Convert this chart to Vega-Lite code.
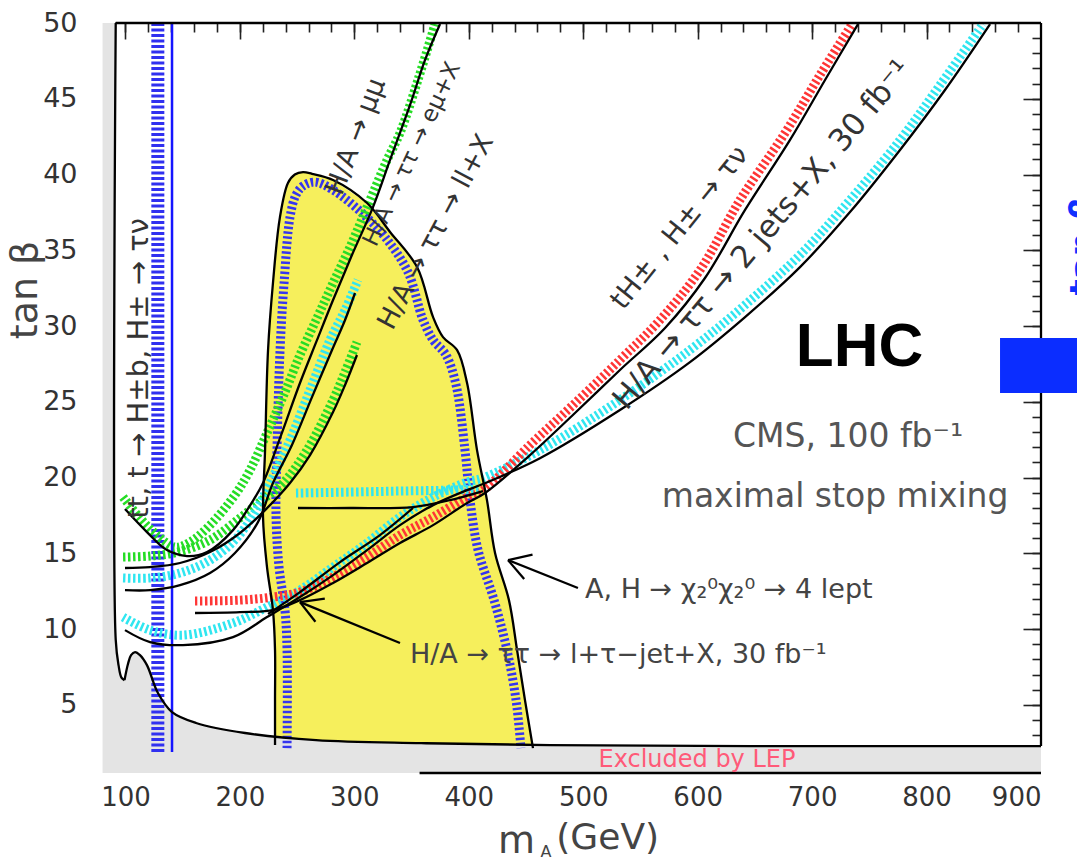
{
"$schema":"https://vega.github.io/schema/vega-lite/v6.json",
"width":927,"height":750,
"autosize":{"type":"none"},
"padding":{"left":114,"top":23,"right":36,"bottom":91},
"background":"white",
"config":{"view":{"stroke":null},"font":"DejaVu Sans"},
"datasets":{
"lep":[{"x":80,"y":50},{"x":91.4,"y":50},{"x":91.5,"y":9.3},{"x":94,"y":7.6},{"x":96.5,"y":6.8},{"x":99.2,"y":6.63},{"x":102.2,"y":7.69},{"x":104.9,"y":8.28},{"x":108.4,"y":8.48},{"x":112.7,"y":8.28},{"x":118.8,"y":7.62},{"x":128.4,"y":5.78},{"x":140.7,"y":4.52},{"x":161.7,"y":3.8},{"x":204.5,"y":3.14},{"x":266.5,"y":2.67},{"x":358.3,"y":2.47},{"x":471,"y":2.34},{"x":645.8,"y":2.28},{"x":900,"y":2.28}],
"yellow":[{"x":220.2,"top":17.39,"bot":17.39},{"x":222.0,"top":21.81,"bot":15.69},{"x":223.7,"top":26.13,"bot":14.09},{"x":224.6,"top":28.42,"bot":13.6},{"x":226.5,"top":30.37,"bot":12.6},{"x":228.9,"top":32.84,"bot":11.25},{"x":230.6,"top":34.05,"bot":8.7},{"x":230.7,"top":34.12,"bot":2.85},{"x":235.0,"top":37.19,"bot":2.82},{"x":242.0,"top":39.44,"bot":2.76},{"x":248,"top":40.0,"bot":2.72},{"x":255.2,"top":40.16,"bot":2.7},{"x":263,"top":40.05,"bot":2.68},{"x":281.4,"top":39.64,"bot":2.63},{"x":311.1,"top":38.12,"bot":2.56},{"x":331.2,"top":36.21,"bot":2.52},{"x":354.8,"top":33.89,"bot":2.48},{"x":368.8,"top":30.59,"bot":2.46},{"x":377.5,"top":29.27,"bot":2.45},{"x":389.7,"top":28.42,"bot":2.43},{"x":398.5,"top":26.24,"bot":2.42},{"x":407.2,"top":21.81,"bot":2.41},{"x":415.9,"top":18.51,"bot":2.4},{"x":423,"top":15.0,"bot":2.39},{"x":435.1,"top":11.91,"bot":2.38},{"x":442.2,"top":8.61,"bot":2.37},{"x":449.1,"top":5.31,"bot":2.36},{"x":456.1,"top":2.36,"bot":2.35}],
"vl":[{"k":"h","x":128.3,"y":1.88,"y2":50},{"k":"s","x":140.7,"y":1.88,"y2":50}],
"box":[{"x":864.2,"x2":931.5,"y":25.58,"y2":29.21}],
"frame":[{"x":91.5,"y":50},{"x":900,"y":50}],
"hatch":[
{"id":"blueB","i":0,"x":241.2,"y":2.14},{"id":"blueB","i":1,"x":241.2,"y":8.61},{"id":"blueB","i":2,"x":239.4,"y":11.25},{"id":"blueB","i":3,"x":234.2,"y":14.09},{"id":"blueB","i":4,"x":231.6,"y":17.39},{"id":"blueB","i":5,"x":232.4,"y":21.81},{"id":"blueB","i":6,"x":235.1,"y":28.42},{"id":"blueB","i":7,"x":238.6,"y":32.84},{"id":"blueB","i":8,"x":243.8,"y":37.19},{"id":"blueB","i":9,"x":249.0,"y":38.65},{"id":"blueB","i":10,"x":255.2,"y":39.24},{"id":"blueB","i":11,"x":265.6,"y":39.5},{"id":"blueB","i":12,"x":281.4,"y":38.98},{"id":"blueB","i":13,"x":306.7,"y":37.46},{"id":"blueB","i":14,"x":326.8,"y":35.87},{"id":"blueB","i":15,"x":346.9,"y":33.56},{"id":"blueB","i":16,"x":360.0,"y":30.4},{"id":"blueB","i":17,"x":368.8,"y":29.08},{"id":"blueB","i":18,"x":380.1,"y":28.09},{"id":"blueB","i":19,"x":388.9,"y":26.11},{"id":"blueB","i":20,"x":396.7,"y":21.81},{"id":"blueB","i":21,"x":401.1,"y":18.51},{"id":"blueB","i":22,"x":408.1,"y":15.21},{"id":"blueB","i":23,"x":422.1,"y":11.91},{"id":"blueB","i":24,"x":433.4,"y":8.61},{"id":"blueB","i":25,"x":441.3,"y":5.31},{"id":"blueB","i":26,"x":445.6,"y":2.14},
{"id":"mumuG","i":0,"x":97.9,"y":18.71},{"id":"mumuG","i":1,"x":112.7,"y":17.33},{"id":"mumuG","i":2,"x":127.6,"y":16.2},{"id":"mumuG","i":3,"x":143.3,"y":15.41},{"id":"mumuG","i":4,"x":156.4,"y":15.74},{"id":"mumuG","i":5,"x":173.9,"y":16.86},{"id":"mumuG","i":6,"x":195.7,"y":18.85},{"id":"mumuG","i":7,"x":208.8,"y":20.49},{"id":"mumuG","i":8,"x":223.7,"y":22.94},{"id":"mumuG","i":9,"x":239.4,"y":25.64},{"id":"mumuG","i":10,"x":252.5,"y":28.09},{"id":"mumuG","i":11,"x":267.4,"y":30.53},{"id":"mumuG","i":12,"x":281.4,"y":32.84},{"id":"mumuG","i":13,"x":296.2,"y":35.21},{"id":"mumuG","i":14,"x":311.1,"y":37.85},{"id":"mumuG","i":15,"x":328.6,"y":40.96},{"id":"mumuG","i":16,"x":339.9,"y":42.74},{"id":"mumuG","i":17,"x":355.6,"y":46.24},{"id":"mumuG","i":18,"x":370.5,"y":49.93},
{"id":"llG","i":0,"x":97.9,"y":14.75},{"id":"llG","i":1,"x":121.5,"y":14.82},{"id":"llG","i":2,"x":145.9,"y":15.08},{"id":"llG","i":3,"x":173.9,"y":15.88},{"id":"llG","i":4,"x":200.1,"y":17.33},{"id":"llG","i":5,"x":219.3,"y":18.51},{"id":"llG","i":6,"x":237.7,"y":19.64},{"id":"llG","i":7,"x":258.6,"y":21.81},{"id":"llG","i":8,"x":281.4,"y":25.12},{"id":"llG","i":9,"x":291.9,"y":26.96},{"id":"llG","i":10,"x":302.3,"y":28.94},
{"id":"emuC","i":0,"x":97.9,"y":13.37},{"id":"emuC","i":1,"x":121.5,"y":13.37},{"id":"emuC","i":2,"x":147.7,"y":13.7},{"id":"emuC","i":3,"x":173.9,"y":14.55},{"id":"emuC","i":4,"x":195.7,"y":15.88},{"id":"emuC","i":5,"x":213.2,"y":17.72},{"id":"emuC","i":6,"x":226.3,"y":19.64},{"id":"emuC","i":7,"x":243.8,"y":22.48},{"id":"emuC","i":8,"x":261.3,"y":25.78},{"id":"emuC","i":9,"x":278.7,"y":29.08},{"id":"emuC","i":10,"x":291.9,"y":31.06},{"id":"emuC","i":11,"x":303.2,"y":33.04},
{"id":"jetsC","i":0,"x":97.9,"y":10.79},{"id":"jetsC","i":1,"x":121.5,"y":9.93},{"id":"jetsC","i":2,"x":150.3,"y":9.6},{"id":"jetsC","i":3,"x":194.0,"y":10.4},{"id":"jetsC","i":4,"x":223.7,"y":11.45},{"id":"jetsC","i":5,"x":252.5,"y":12.57},{"id":"jetsC","i":6,"x":281.4,"y":14.09},{"id":"jetsC","i":7,"x":311.1,"y":15.68},{"id":"jetsC","i":8,"x":339.9,"y":17.39},{"id":"jetsC","i":9,"x":368.8,"y":18.71},{"id":"jetsC","i":10,"x":398.5,"y":19.7},{"id":"jetsC","i":11,"x":412.4,"y":19.97},{"id":"jetsC","i":12,"x":462.2,"y":21.81},{"id":"jetsC","i":13,"x":532.1,"y":25.12},{"id":"jetsC","i":14,"x":593.3,"y":28.42},{"id":"jetsC","i":15,"x":641.4,"y":31.39},{"id":"jetsC","i":16,"x":689.4,"y":34.69},{"id":"jetsC","i":17,"x":733.1,"y":38.32},{"id":"jetsC","i":18,"x":776.8,"y":42.28},{"id":"jetsC","i":19,"x":811.8,"y":45.91},{"id":"jetsC","i":20,"x":849.4,"y":49.93},
{"id":"red","i":0,"x":160.8,"y":11.85},{"id":"red","i":1,"x":200.1,"y":11.91},{"id":"red","i":2,"x":228.9,"y":12.11},{"id":"red","i":3,"x":252.5,"y":12.44},{"id":"red","i":4,"x":281.4,"y":13.43},{"id":"red","i":5,"x":311.1,"y":14.75},{"id":"red","i":6,"x":339.9,"y":16.2},{"id":"red","i":7,"x":368.8,"y":17.39},{"id":"red","i":8,"x":398.5,"y":18.71},{"id":"red","i":9,"x":412.4,"y":19.17},{"id":"red","i":10,"x":453.5,"y":22.15},{"id":"red","i":11,"x":491.1,"y":24.79},{"id":"red","i":12,"x":532.1,"y":27.76},{"id":"red","i":13,"x":567.1,"y":30.4},{"id":"red","i":14,"x":602.1,"y":33.7},{"id":"red","i":15,"x":637.0,"y":38.32},{"id":"red","i":16,"x":676.3,"y":42.74},{"id":"red","i":17,"x":706.9,"y":46.57},{"id":"red","i":18,"x":734.9,"y":49.93},
{"id":"ltauC","i":0,"x":249.0,"y":18.98},{"id":"ltauC","i":1,"x":296.2,"y":19.04},{"id":"ltauC","i":2,"x":339.9,"y":19.11},{"id":"ltauC","i":3,"x":383.6,"y":19.17},{"id":"ltauC","i":4,"x":409.8,"y":19.24}
],
"black":[
{"id":"frameTop","i":0,"x":91.5,"y":50},{"id":"frameTop","i":1,"x":900,"y":50},
{"id":"frameRight","i":0,"x":900,"y":50},{"id":"frameRight","i":1,"x":900,"y":2.28},
{"id":"axisBottom","i":0,"x":357,"y":0.5},{"id":"axisBottom","i":1,"x":900,"y":0.5},
{"id":"frameLeft","i":0,"x":91.5,"y":50},{"id":"frameLeft","i":1,"x":91.5,"y":9.3},{"id":"frameLeft","i":2,"x":94,"y":7.6},{"id":"frameLeft","i":3,"x":96.5,"y":6.8},{"id":"frameLeft","i":4,"x":99.2,"y":6.63},
{"id":"lep","i":0,"x":99.2,"y":6.63},{"id":"lep","i":1,"x":102.2,"y":7.69},{"id":"lep","i":2,"x":104.9,"y":8.28},{"id":"lep","i":3,"x":108.4,"y":8.48},{"id":"lep","i":4,"x":112.7,"y":8.28},{"id":"lep","i":5,"x":118.8,"y":7.62},{"id":"lep","i":6,"x":128.4,"y":5.78},{"id":"lep","i":7,"x":140.7,"y":4.52},{"id":"lep","i":8,"x":161.7,"y":3.8},{"id":"lep","i":9,"x":204.5,"y":3.14},{"id":"lep","i":10,"x":266.5,"y":2.67},{"id":"lep","i":11,"x":358.3,"y":2.47},{"id":"lep","i":12,"x":471,"y":2.34},{"id":"lep","i":13,"x":645.8,"y":2.28},{"id":"lep","i":14,"x":900,"y":2.28},
{"id":"yellowB","i":0,"x":230.7,"y":2.34},{"id":"yellowB","i":1,"x":230.7,"y":5.31},{"id":"yellowB","i":2,"x":230.7,"y":8.61},{"id":"yellowB","i":3,"x":228.9,"y":11.25},{"id":"yellowB","i":4,"x":223.7,"y":14.09},{"id":"yellowB","i":5,"x":220.2,"y":17.39},{"id":"yellowB","i":6,"x":222.0,"y":21.81},{"id":"yellowB","i":7,"x":224.6,"y":28.42},{"id":"yellowB","i":8,"x":228.9,"y":32.84},{"id":"yellowB","i":9,"x":235.0,"y":37.19},{"id":"yellowB","i":10,"x":242.0,"y":39.44},{"id":"yellowB","i":11,"x":248,"y":40.0},{"id":"yellowB","i":12,"x":255.2,"y":40.16},{"id":"yellowB","i":13,"x":263,"y":40.05},{"id":"yellowB","i":14,"x":281.4,"y":39.64},{"id":"yellowB","i":15,"x":311.1,"y":38.12},{"id":"yellowB","i":16,"x":331.2,"y":36.21},{"id":"yellowB","i":17,"x":354.8,"y":33.89},{"id":"yellowB","i":18,"x":368.8,"y":30.59},{"id":"yellowB","i":19,"x":377.5,"y":29.27},{"id":"yellowB","i":20,"x":389.7,"y":28.42},{"id":"yellowB","i":21,"x":398.5,"y":26.24},{"id":"yellowB","i":22,"x":407.2,"y":21.81},{"id":"yellowB","i":23,"x":415.9,"y":18.51},{"id":"yellowB","i":24,"x":423,"y":15.0},{"id":"yellowB","i":25,"x":435.1,"y":11.91},{"id":"yellowB","i":26,"x":442.2,"y":8.61},{"id":"yellowB","i":27,"x":449.1,"y":5.31},{"id":"yellowB","i":28,"x":456.1,"y":2.14},
{"id":"mumuK","i":0,"x":99.6,"y":17.92},{"id":"mumuK","i":1,"x":118.8,"y":16.4},{"id":"mumuK","i":2,"x":136.3,"y":15.21},{"id":"mumuK","i":3,"x":153.8,"y":14.82},{"id":"mumuK","i":4,"x":171.3,"y":15.08},{"id":"mumuK","i":5,"x":194.0,"y":16.53},{"id":"mumuK","i":6,"x":210,"y":18.3},{"id":"mumuK","i":7,"x":220.2,"y":19.64},{"id":"mumuK","i":8,"x":236,"y":22.8},{"id":"mumuK","i":9,"x":252.5,"y":26.24},{"id":"mumuK","i":10,"x":267,"y":29.0},{"id":"mumuK","i":11,"x":281.4,"y":31.72},{"id":"mumuK","i":12,"x":298,"y":34.7},{"id":"mumuK","i":13,"x":316.3,"y":37.85},{"id":"mumuK","i":14,"x":331.2,"y":40.96},{"id":"mumuK","i":15,"x":348.7,"y":44.59},{"id":"mumuK","i":16,"x":361.8,"y":47.56},{"id":"mumuK","i":17,"x":374.9,"y":49.93},
{"id":"llK","i":0,"x":99.6,"y":14.03},{"id":"llK","i":1,"x":121.5,"y":14.09},{"id":"llK","i":2,"x":147.7,"y":14.36},{"id":"llK","i":3,"x":173.9,"y":15.08},{"id":"llK","i":4,"x":200.1,"y":16.34},{"id":"llK","i":5,"x":222.0,"y":17.85},{"id":"llK","i":6,"x":243.8,"y":19.64},{"id":"llK","i":7,"x":261.3,"y":21.48},{"id":"llK","i":8,"x":281.4,"y":24.32},{"id":"llK","i":9,"x":291.9,"y":26.11},{"id":"llK","i":10,"x":302.3,"y":28.09},
{"id":"emuK","i":0,"x":99.6,"y":12.57},{"id":"emuK","i":1,"x":121.5,"y":12.57},{"id":"emuK","i":2,"x":147.7,"y":12.9},{"id":"emuK","i":3,"x":173.9,"y":13.7},{"id":"emuK","i":4,"x":195.7,"y":15.02},{"id":"emuK","i":5,"x":215.8,"y":17.06},{"id":"emuK","i":6,"x":228.9,"y":19.64},{"id":"emuK","i":7,"x":245.5,"y":22.15},{"id":"emuK","i":8,"x":263.0,"y":25.31},{"id":"emuK","i":9,"x":280.5,"y":28.42},{"id":"emuK","i":10,"x":291.9,"y":30.4},{"id":"emuK","i":11,"x":300.6,"y":32.18},
{"id":"jetsK","i":0,"x":99.6,"y":9.93},{"id":"jetsK","i":1,"x":121.5,"y":9.14},{"id":"jetsK","i":2,"x":150.3,"y":8.94},{"id":"jetsK","i":3,"x":194.0,"y":9.47},{"id":"jetsK","i":4,"x":223.7,"y":10.79},{"id":"jetsK","i":5,"x":252.5,"y":12.11},{"id":"jetsK","i":6,"x":281.4,"y":13.56},{"id":"jetsK","i":7,"x":311.1,"y":15.21},{"id":"jetsK","i":8,"x":339.9,"y":16.86},{"id":"jetsK","i":9,"x":368.8,"y":18.18},{"id":"jetsK","i":10,"x":398.5,"y":19.17},{"id":"jetsK","i":11,"x":412.4,"y":19.57},{"id":"jetsK","i":12,"x":462.2,"y":21.28},{"id":"jetsK","i":13,"x":532.1,"y":24.46},{"id":"jetsK","i":14,"x":593.3,"y":27.62},{"id":"jetsK","i":15,"x":641.4,"y":30.59},{"id":"jetsK","i":16,"x":689.4,"y":33.89},{"id":"jetsK","i":17,"x":733.1,"y":37.52},{"id":"jetsK","i":18,"x":776.8,"y":41.62},{"id":"jetsK","i":19,"x":816.1,"y":45.58},{"id":"jetsK","i":20,"x":855.5,"y":49.93},
{"id":"redK","i":0,"x":160.8,"y":11.06},{"id":"redK","i":1,"x":200.1,"y":11.12},{"id":"redK","i":2,"x":228.9,"y":11.25},{"id":"redK","i":3,"x":252.5,"y":11.91},{"id":"redK","i":4,"x":281.4,"y":13.04},{"id":"redK","i":5,"x":311.1,"y":14.36},{"id":"redK","i":6,"x":339.9,"y":15.68},{"id":"redK","i":7,"x":368.8,"y":16.86},{"id":"redK","i":8,"x":398.5,"y":18.32},{"id":"redK","i":9,"x":414.2,"y":18.98},{"id":"redK","i":10,"x":453.5,"y":21.48},{"id":"redK","i":11,"x":492.8,"y":24.26},{"id":"redK","i":12,"x":532.1,"y":27.1},{"id":"redK","i":13,"x":571.5,"y":29.87},{"id":"redK","i":14,"x":606.4,"y":33.17},{"id":"redK","i":15,"x":641.4,"y":37.66},{"id":"redK","i":16,"x":680.7,"y":42.28},{"id":"redK","i":17,"x":711.3,"y":46.24},{"id":"redK","i":18,"x":740.1,"y":49.93},
{"id":"ltauK","i":0,"x":250.8,"y":17.99},{"id":"ltauK","i":1,"x":296.2,"y":17.99},{"id":"ltauK","i":2,"x":351.3,"y":18.05},{"id":"ltauK","i":3,"x":383.6,"y":18.51},{"id":"ltauK","i":4,"x":412.4,"y":19.11},
{"id":"diagK","i":0,"x":224.6,"y":10.99},{"id":"diagK","i":1,"x":252.5,"y":12.44},{"id":"diagK","i":2,"x":287.5,"y":14.42},{"id":"diagK","i":3,"x":322.4,"y":16.2},{"id":"diagK","i":4,"x":351.3,"y":17.99},
{"id":"arr1","i":0,"x":495.4,"y":12.71},{"id":"arr1","i":1,"x":434.3,"y":14.55},
{"id":"arr1a","i":0,"x":434.3,"y":14.55},{"id":"arr1a","i":1,"x":455.7,"y":14.91},
{"id":"arr1b","i":0,"x":434.3,"y":14.55},{"id":"arr1b","i":1,"x":448.4,"y":13.3},
{"id":"arr2","i":0,"x":339.9,"y":9.08},{"id":"arr2","i":1,"x":252.5,"y":11.78},
{"id":"arr2a","i":0,"x":252.5,"y":11.78},{"id":"arr2a","i":1,"x":274.2,"y":12.01},
{"id":"arr2b","i":0,"x":252.5,"y":11.78},{"id":"arr2b","i":1,"x":266.0,"y":10.48}
],
"lab":[
{"k":"mumu","t":"H/A  →  μμ","x":301.5,"y":42.5},
{"k":"emu","t":"H/A → ττ → eμ+X","x":350.4,"y":41.35},
{"k":"ll","t":"H/A → ττ → ll+X","x":371.4,"y":36.2},
{"k":"taunu","t":"tH± , H± → τν","x":584.6,"y":36.47},
{"k":"jets","t":"H/A → ττ → 2 jets+X, 30 fb⁻¹","x":657,"y":36.0},
{"k":"tt","t":"tt, t → H±b, H± → τν","x":111.5,"y":27.2},
{"k":"lhc","t":"LHC","x":741.4,"y":28.61},
{"k":"cms","t":"CMS, 100 fb⁻¹","x":731.4,"y":22.67},
{"k":"mix","t":"maximal stop mixing","x":720.1,"y":18.71},
{"k":"4l","t":"A, H → χ₂⁰χ₂⁰ → 4 lept","x":501.6,"y":12.57},
{"k":"ltau","t":"H/A → ττ → l+τ−jet+X, 30 fb⁻¹","x":348.6,"y":8.28},
{"k":"lep","t":"Excluded by LEP","x":599.4,"y":1.34},
{"k":"ytitle","t":"tan β","x":13.5,"y":32.38},
{"k":"m","t":"m","x":441.7,"y":-4.06},
{"k":"A","t":"A","x":467.5,"y":-4.72},
{"k":"gev","t":"(GeV)","x":476.5,"y":-3.8},
{"k":"blue","t":"tan β","x":937.6,"y":35.3}
]
},
"layer":[
{
"encoding":{
"x":{"field":"x","type":"quantitative","scale":{"domain":[90,900],"nice":false,"zero":false},"axis":{"values":[100,200,300,400,500,600,700,800,900],"title":null,"ticks":false,"domain":false,"grid":false,"labelFontSize":26,"labelColor":"#333","labelPadding":11,"labelFont":"DejaVu Sans","labelOverlap":false}},
"y":{"field":"y","type":"quantitative","scale":{"domain":[0.5,50],"nice":false,"zero":false},"axis":{"values":[5,10,15,20,25,30,35,40,45,50],"title":null,"ticks":false,"domain":false,"grid":false,"labelFontSize":27,"labelColor":"#333","labelPadding":37,"labelFont":"DejaVu Sans","labelOverlap":false}}
},
"layer":[
{"data":{"name":"lep"},"mark":{"type":"area","color":"#e4e4e4"},"encoding":{"y2":{"datum":0.5}}},
{"data":{"name":"yellow"},"mark":{"type":"area","color":"#f6ef5c"},"encoding":{"y":{"field":"top","type":"quantitative"},"y2":{"field":"bot"}}},
{"data":{"name":"vl"},"transform":[{"filter":"datum.k=='h'"}],"mark":{"type":"rule","color":"#3030f0","strokeWidth":13,"strokeDash":[3,2.5]},"encoding":{"y2":{"field":"y2"}}},
{"data":{"name":"hatch"},"mark":{"type":"line","strokeWidth":9,"strokeDash":[2.5,2.5],"interpolate":"catmull-rom"},"encoding":{"detail":{"field":"id"},"order":{"field":"i","type":"quantitative"},"color":{"field":"id","type":"nominal","legend":null,"scale":{"domain":["blueB","mumuG","llG","emuC","jetsC","red","ltauC"],"range":["#3535f0","#25dd25","#25dd25","#30e6f0","#30e6f0","#ff3535","#30e6f0"]}}}},
{"data":{"name":"vl"},"transform":[{"filter":"datum.k=='s'"}],"mark":{"type":"rule","color":"#1515ff","strokeWidth":2.5},"encoding":{"y2":{"field":"y2"}}},
{"data":{"name":"black"},"mark":{"type":"line","color":"#000","strokeWidth":2.3,"interpolate":"catmull-rom"},"encoding":{"detail":{"field":"id"},"order":{"field":"i","type":"quantitative"}}},
{"data":{"name":"box"},"mark":{"type":"rect","color":"#0b2dff"},"encoding":{"x2":{"field":"x2"},"y2":{"field":"y2"}}},
{"data":{"name":"lab"},"transform":[{"filter":"datum.k=='mumu'"}],"mark":{"type":"text","angle":-69,"fontSize":27,"color":"#333"},"encoding":{"text":{"field":"t"}}},
{"data":{"name":"lab"},"transform":[{"filter":"datum.k=='emu'"}],"mark":{"type":"text","angle":-65,"fontSize":23,"color":"#333"},"encoding":{"text":{"field":"t"}}},
{"data":{"name":"lab"},"transform":[{"filter":"datum.k=='ll'"}],"mark":{"type":"text","angle":-62,"fontSize":27,"color":"#333"},"encoding":{"text":{"field":"t"}}},
{"data":{"name":"lab"},"transform":[{"filter":"datum.k=='taunu'"}],"mark":{"type":"text","angle":-51,"fontSize":28,"color":"#333"},"encoding":{"text":{"field":"t"}}},
{"data":{"name":"lab"},"transform":[{"filter":"datum.k=='jets'"}],"mark":{"type":"text","angle":-50,"fontSize":31,"color":"#333"},"encoding":{"text":{"field":"t"}}},
{"data":{"name":"lab"},"transform":[{"filter":"datum.k=='tt'"}],"mark":{"type":"text","angle":-90,"fontSize":29,"color":"#333"},"encoding":{"text":{"field":"t"}}},
{"data":{"name":"lab"},"transform":[{"filter":"datum.k=='lhc'"}],"mark":{"type":"text","fontSize":62,"fontWeight":"bold","font":"Liberation Sans","color":"#000"},"encoding":{"text":{"field":"t"}}},
{"data":{"name":"lab"},"transform":[{"filter":"datum.k=='cms' || datum.k=='mix'"}],"mark":{"type":"text","fontSize":33,"color":"#555"},"encoding":{"text":{"field":"t"}}},
{"data":{"name":"lab"},"transform":[{"filter":"datum.k=='4l' || datum.k=='ltau'"}],"mark":{"type":"text","fontSize":27,"align":"left","color":"#444"},"encoding":{"text":{"field":"t"}}},
{"data":{"name":"lab"},"transform":[{"filter":"datum.k=='lep'"}],"mark":{"type":"text","fontSize":24,"color":"#ff5a78"},"encoding":{"text":{"field":"t"}}},
{"data":{"name":"lab"},"transform":[{"filter":"datum.k=='ytitle'"}],"mark":{"type":"text","angle":-90,"fontSize":38,"color":"#444"},"encoding":{"text":{"field":"t"}}},
{"data":{"name":"lab"},"transform":[{"filter":"datum.k=='m'"}],"mark":{"type":"text","fontSize":38,"color":"#444"},"encoding":{"text":{"field":"t"}}},
{"data":{"name":"lab"},"transform":[{"filter":"datum.k=='A'"}],"mark":{"type":"text","fontSize":16,"color":"#444"},"encoding":{"text":{"field":"t"}}},
{"data":{"name":"lab"},"transform":[{"filter":"datum.k=='gev'"}],"mark":{"type":"text","fontSize":36,"align":"left","color":"#444"},"encoding":{"text":{"field":"t"}}},
{"data":{"name":"lab"},"transform":[{"filter":"datum.k=='blue'"}],"mark":{"type":"text","angle":-90,"fontSize":34,"fontWeight":"bold","color":"#1030ff"},"encoding":{"text":{"field":"t"}}}
]
},
{
"data":{"name":"frame"},
"mark":{"type":"line","color":"#000","strokeWidth":2},
"encoding":{
"x":{"field":"x","type":"quantitative","scale":{"domain":[90,900],"nice":false,"zero":false},"axis":{"orient":"top","offset":-9,"values":[100,120,140,160,180,200,220,240,260,280,300,320,340,360,380,400,420,440,460,480,500,520,540,560,580,600,620,640,660,680,700,720,740,760,780,800,820,840,860,880],"labels":false,"domain":false,"grid":false,"title":null,"ticks":true,"tickColor":"#222","tickWidth":1.6,"tickSize":9,"zindex":0}},
"y":{"field":"y","type":"quantitative","scale":{"domain":[0.5,50],"nice":false,"zero":false},"axis":{"orient":"right","offset":-9,"values":[3,4,5,6,7,8,9,10,11,12,13,14,15,16,17,18,19,20,21,22,23,24,25,26,27,28,29,30,31,32,33,34,35,36,37,38,39,40,41,42,43,44,45,46,47,48,49],"labels":false,"domain":false,"grid":false,"title":null,"ticks":true,"tickColor":"#222","tickWidth":1.6,"tickSize":9,"zindex":0}}
}
},
{
"data":{"name":"frame"},
"mark":{"type":"line","color":"#000","strokeWidth":2},
"encoding":{
"x":{"field":"x","type":"quantitative","scale":{"domain":[90,900],"nice":false,"zero":false},"axis":{"orient":"top","offset":-16,"values":[100,200,300,400,500,600,700,800],"labels":false,"domain":false,"grid":false,"title":null,"ticks":true,"tickColor":"#222","tickWidth":1.6,"tickSize":16,"zindex":0}},
"y":{"field":"y","type":"quantitative","scale":{"domain":[0.5,50],"nice":false,"zero":false},"axis":{"orient":"right","offset":-18,"values":[5,10,15,20,25,30,35,40,45],"labels":false,"domain":false,"grid":false,"title":null,"ticks":true,"tickColor":"#222","tickWidth":1.6,"tickSize":18,"zindex":0}}
}
}
],
"resolve":{"axis":{"x":"independent","y":"independent"}}
}
